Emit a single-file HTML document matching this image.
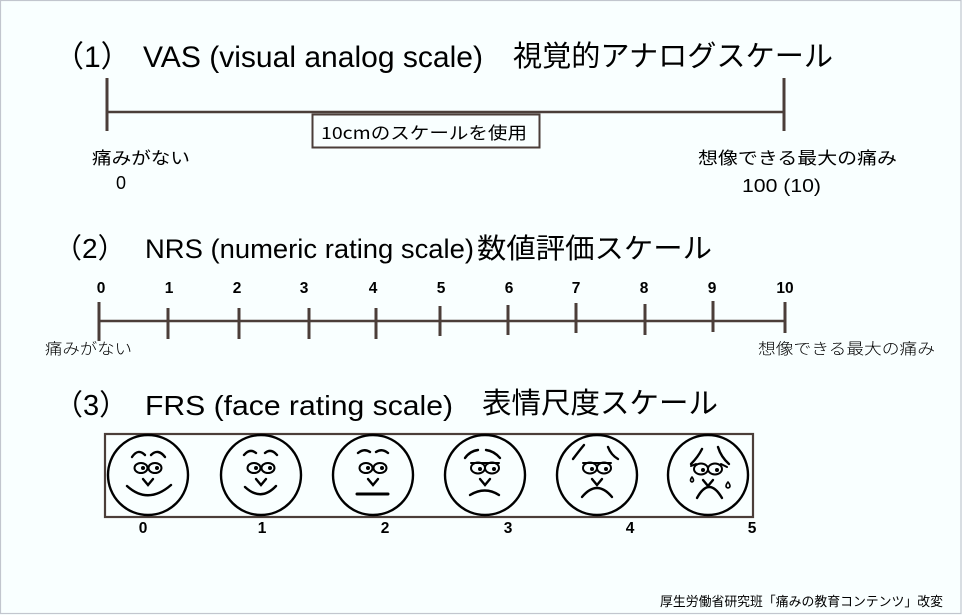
<!DOCTYPE html>
<html><head><meta charset="utf-8">
<style>
html,body{margin:0;padding:0;background:#f9ffff;}
svg{display:block;}
text{font-family:"Liberation Sans","Noto Sans CJK JP",sans-serif;fill:#000;}
.cjk{font-family:"Noto Sans CJK JP","Liberation Sans",sans-serif;}
.b{font-weight:bold;}
</style></head>
<body>
<svg width="962" height="615" viewBox="0 0 962 615" xmlns="http://www.w3.org/2000/svg">
<rect x="0" y="0" width="962" height="615" fill="#f9ffff"/>
<rect x="0.5" y="0.5" width="960.5" height="613" fill="none" stroke="#c2c6ce" stroke-width="1.2"/>

<!-- Title 1 -->
<text x="54" y="67" font-size="30">（1）</text>
<text x="143" y="67" font-size="30" textLength="340" lengthAdjust="spacingAndGlyphs">VAS (visual analog scale)</text>
<text class="cjk" x="513" y="66" font-size="29" textLength="320" lengthAdjust="spacingAndGlyphs">視覚的アナログスケール</text>

<!-- VAS line -->
<g stroke="#4b3e39" stroke-width="3" fill="none">
<line x1="107" y1="78" x2="107" y2="131"/>
<line x1="784" y1="78" x2="784" y2="131"/>
<line x1="107" y1="112" x2="784" y2="112" stroke-width="2.5"/>
</g>
<rect x="312.5" y="114.5" width="227" height="33" fill="#f9ffff" stroke="#4b3e39" stroke-width="2"/>
<text class="cjk" x="321" y="139" font-size="17" textLength="206" lengthAdjust="spacingAndGlyphs">10cmのスケールを使用</text>
<text class="cjk" x="92" y="164" font-size="17" textLength="98" lengthAdjust="spacingAndGlyphs">痛みがない</text>
<text x="116" y="189" font-size="18">0</text>
<text class="cjk" x="698" y="164" font-size="17" textLength="199" lengthAdjust="spacingAndGlyphs">想像できる最大の痛み</text>
<text x="742" y="192" font-size="18" textLength="79" lengthAdjust="spacingAndGlyphs">100 (10)</text>

<!-- Title 2 -->
<text x="54" y="258" font-size="28">（2）</text>
<text x="145" y="258" font-size="27" textLength="329" lengthAdjust="spacingAndGlyphs">NRS (numeric rating scale)</text>
<text class="cjk" x="477" y="258" font-size="28" textLength="235" lengthAdjust="spacingAndGlyphs">数値評価スケール</text>

<!-- NRS numbers -->
<g font-size="15.5" text-anchor="middle">
<text x="101" y="293" class="b">0</text>
<text x="169" y="293" class="b">1</text>
<text x="237" y="293" class="b">2</text>
<text x="304" y="293" class="b">3</text>
<text x="373" y="293" class="b">4</text>
<text x="441" y="293" class="b">5</text>
<text x="509" y="293" class="b">6</text>
<text x="576" y="293" class="b">7</text>
<text x="644" y="293" class="b">8</text>
<text x="712" y="293" class="b">9</text>
<text x="785" y="293" class="b">10</text>
</g>
<g stroke="#4b3e39" stroke-width="3" fill="none">
<line x1="99" y1="302" x2="99" y2="341"/>
<line x1="168" y1="308" x2="168" y2="339"/>
<line x1="239" y1="308" x2="239" y2="339"/>
<line x1="309" y1="308" x2="309" y2="339"/>
<line x1="376" y1="308" x2="376" y2="339"/>
<line x1="440" y1="306" x2="440" y2="336"/>
<line x1="508" y1="305" x2="508" y2="335"/>
<line x1="576" y1="303" x2="576" y2="333"/>
<line x1="645" y1="304" x2="645" y2="335"/>
<line x1="713" y1="301" x2="713" y2="332"/>
<line x1="785" y1="302" x2="785" y2="333"/>
<line x1="99" y1="321" x2="785" y2="321" stroke-width="2.5"/>
</g>
<text class="cjk" x="45" y="354" font-size="15.5" textLength="87" lengthAdjust="spacingAndGlyphs" style="font-weight:300">痛みがない</text>
<text class="cjk" x="758" y="354" font-size="15.5" textLength="177" lengthAdjust="spacingAndGlyphs" style="font-weight:300">想像できる最大の痛み</text>

<!-- Title 3 -->
<text x="54" y="415" font-size="29">（3）</text>
<text x="145" y="415" font-size="28" textLength="308" lengthAdjust="spacingAndGlyphs">FRS (face rating scale)</text>
<text class="cjk" x="482" y="413" font-size="29" textLength="236" lengthAdjust="spacingAndGlyphs">表情尺度スケール</text>

<!-- FRS box -->
<rect x="105" y="434" width="648" height="83" fill="none" stroke="#4b3e39" stroke-width="2.2"/>

<g fill="none" stroke="#000" stroke-width="2.4" stroke-linecap="round">
<!-- face 0 -->
<g transform="translate(148,475)">
<circle r="40"/>
<path d="M-16,-18 Q-10,-27 -3,-20 M3,-20 Q10,-27 17,-18"/>
<g stroke-width="2"><ellipse cx="-7" cy="-7" rx="6.5" ry="5"/><ellipse cx="7" cy="-7" rx="6.5" ry="5"/></g>
<circle cx="-5" cy="-7" r="2" fill="#000" stroke="none"/><circle cx="9" cy="-7" r="2" fill="#000" stroke="none"/>
<path d="M-5,4 L0,10 L5,4"/>
<path d="M-21,11 Q0,30 23,10"/>
</g>
<!-- face 1 -->
<g transform="translate(261,475)">
<circle r="40"/>
<path d="M-17,-20 Q-11,-27 -5,-22 M4,-22 Q10,-27 16,-20"/>
<g stroke-width="2"><ellipse cx="-7" cy="-7" rx="6.5" ry="5"/><ellipse cx="7" cy="-7" rx="6.5" ry="5"/></g>
<circle cx="-5" cy="-7" r="2" fill="#000" stroke="none"/><circle cx="9" cy="-7" r="2" fill="#000" stroke="none"/>
<path d="M-5,4 L0,10 L5,4"/>
<path d="M-16,12 Q0,27 15,11"/>
</g>
<!-- face 2 -->
<g transform="translate(373,475)">
<circle r="40"/>
<path d="M-15,-22 Q-9,-27 -3,-23 M3,-23 Q9,-27 15,-22"/>
<g stroke-width="2"><ellipse cx="-7" cy="-7" rx="6.5" ry="5"/><ellipse cx="7" cy="-7" rx="6.5" ry="5"/></g>
<circle cx="-5" cy="-7" r="2" fill="#000" stroke="none"/><circle cx="9" cy="-7" r="2" fill="#000" stroke="none"/>
<path d="M-5,4 L0,10 L5,4"/>
<path d="M-16,19 L15,19" stroke-width="3"/>
</g>
<!-- face 3 -->
<g transform="translate(485,475)">
<circle r="40"/>
<path d="M-20,-17 Q-15,-24 -7,-25 M1,-25 Q9,-24 15,-17"/>
<g stroke-width="2"><ellipse cx="-7" cy="-7" rx="7" ry="5.5"/><ellipse cx="7" cy="-7" rx="7" ry="5.5"/></g>
<path d="M-14,-12 L14,-12" stroke-width="2"/>
<circle cx="-5" cy="-6" r="2" fill="#000" stroke="none"/><circle cx="9" cy="-6" r="2" fill="#000" stroke="none"/>
<path d="M-5,4 L0,10 L5,4"/>
<path d="M-15,20 Q0,11 14,20"/>
</g>
<!-- face 4 -->
<g transform="translate(597,475)">
<circle r="40"/>
<path d="M-24,-16 Q-18,-24 -13,-30 M11,-28 Q14,-20 21,-16"/>
<g stroke-width="2"><ellipse cx="-7" cy="-7" rx="7" ry="5.5"/><ellipse cx="7" cy="-7" rx="7" ry="5.5"/></g>
<path d="M-14,-12 L14,-12" stroke-width="2"/>
<circle cx="-5" cy="-6" r="2" fill="#000" stroke="none"/><circle cx="9" cy="-6" r="2" fill="#000" stroke="none"/>
<path d="M-5,4 L0,10 L5,4"/>
<path d="M-15,22 Q0,4 15,22"/>
</g>
<!-- face 5 -->
<g transform="translate(708,475)">
<circle r="40"/>
<path d="M-6,-26 Q-10,-18 -17,-11 M10,-28 Q13,-18 21,-11"/>
<g stroke-width="2"><ellipse cx="-7" cy="-6" rx="7" ry="5.5"/><ellipse cx="7" cy="-6" rx="7" ry="5.5"/></g>
<path d="M-17,-9 L-12,-11 M13,-11 L19,-8" stroke-width="2"/>
<circle cx="-5" cy="-5" r="2" fill="#000" stroke="none"/><circle cx="9" cy="-5" r="2" fill="#000" stroke="none"/>
<path d="M-5,5 L0,11 L5,5"/>
<path d="M-16,2 Q-19,6 -16,7 Q-13,6 -16,2" stroke-width="1.6"/>
<path d="M20,7 Q16,12 20,13 Q24,12 20,7" stroke-width="1.6"/>
<path d="M-11,23 Q1,1 14,23"/>
</g>
</g>

<!-- FRS numbers -->
<g font-size="15.5" text-anchor="middle">
<text x="143" y="533" class="b">0</text>
<text x="262" y="533" class="b">1</text>
<text x="385" y="533" class="b">2</text>
<text x="508" y="533" class="b">3</text>
<text x="630" y="533" class="b">4</text>
<text x="752" y="533" class="b">5</text>
</g>

<!-- Footer -->
<text class="cjk" x="660" y="606" font-size="13" textLength="283" lengthAdjust="spacingAndGlyphs">厚生労働省研究班「痛みの教育コンテンツ」改変</text>
</svg>
</body></html>
